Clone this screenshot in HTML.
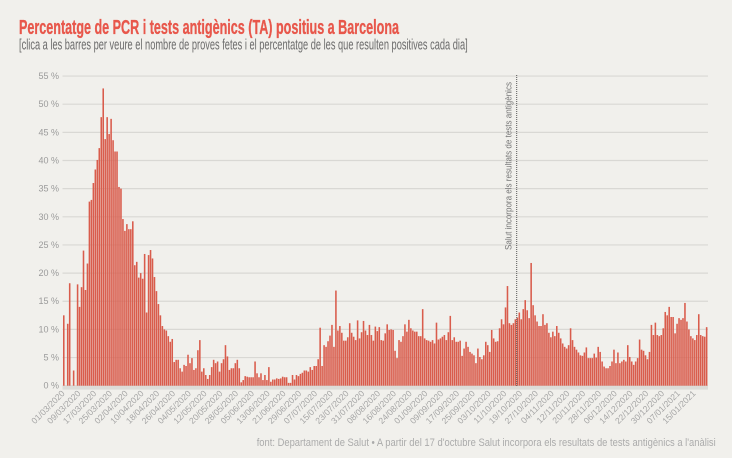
<!DOCTYPE html>
<html>
<head>
<meta charset="utf-8">
<style>
html,body{margin:0;padding:0;background:#f1f0ec;}
body{width:732px;height:458px;overflow:hidden;}
svg{display:block;}
.yl{font-family:"Liberation Sans",sans-serif;font-size:9px;fill:#9a9a9a;text-anchor:end;}
.xl{font-family:"Liberation Sans",sans-serif;font-size:8.6px;fill:#a5a5a5;text-anchor:end;}
</style>
</head>
<body>
<svg width="732" height="458" viewBox="0 0 732 458" xmlns="http://www.w3.org/2000/svg">
<rect width="732" height="458" fill="#f1f0ec"/>
<text x="19" y="34" font-family="Liberation Sans, sans-serif" font-size="20" font-weight="bold" fill="#e8574b" stroke="#e8574b" stroke-width="0.35" textLength="380" lengthAdjust="spacingAndGlyphs">Percentatge de PCR i tests antigènics (TA) positius a Barcelona</text>
<text x="19" y="49.5" font-family="Liberation Sans, sans-serif" font-size="15" fill="#6a6a6a" textLength="448.7" lengthAdjust="spacingAndGlyphs">[clica a les barres per veure el nombre de proves fetes i el percentatge de les que resulten positives cada dia]</text>

<g stroke="#d9d8d4" stroke-width="1.2">
<line x1="62.5" x2="708" y1="76.05" y2="76.05"/>
<line x1="62.5" x2="708" y1="104.2" y2="104.2"/>
<line x1="62.5" x2="708" y1="132.35" y2="132.35"/>
<line x1="62.5" x2="708" y1="160.5" y2="160.5"/>
<line x1="62.5" x2="708" y1="188.65" y2="188.65"/>
<line x1="62.5" x2="708" y1="216.8" y2="216.8"/>
<line x1="62.5" x2="708" y1="244.95" y2="244.95"/>
<line x1="62.5" x2="708" y1="273.1" y2="273.1"/>
<line x1="62.5" x2="708" y1="301.25" y2="301.25"/>
<line x1="62.5" x2="708" y1="329.4" y2="329.4"/>
<line x1="62.5" x2="708" y1="357.55" y2="357.55"/>
<line x1="62.5" x2="708" y1="385.7" y2="385.7"/>
</g>
<rect x="62.5" y="386" width="645.5" height="3.6" fill="#dddcd8"/>

<text class="yl" x="59" y="79">55 %</text>
<text class="yl" x="59" y="107.2">50 %</text>
<text class="yl" x="59" y="135.3">45 %</text>
<text class="yl" x="59" y="163.5">40 %</text>
<text class="yl" x="59" y="191.6">35 %</text>
<text class="yl" x="59" y="219.8">30 %</text>
<text class="yl" x="59" y="247.9">25 %</text>
<text class="yl" x="59" y="276.1">20 %</text>
<text class="yl" x="59" y="304.2">15 %</text>
<text class="yl" x="59" y="332.4">10 %</text>
<text class="yl" x="59" y="360.5">5 %</text>
<text class="yl" x="59" y="388.7">0 %</text>

<g transform="translate(63,385.7) scale(1.972,-5.63)" fill="#d95c4c">
<rect x="0" width=".79" height="12.5"/>
<rect x="2" width=".79" height="11"/>
<rect x="3" width=".79" height="18.2"/>
<rect x="5" width=".79" height="2.7"/>
<rect x="7" width=".79" height="18"/>
<rect x="8" width=".79" height="14"/>
<rect x="9" width=".79" height="17.5"/>
<rect x="10" width=".79" height="24"/>
<rect x="11" width=".79" height="17"/>
<rect x="12" width=".79" height="21.7"/>
<rect x="13" width=".79" height="32.7"/>
<rect x="14" width=".79" height="33"/>
<rect x="15" width=".79" height="36"/>
<rect x="16" width=".79" height="38.4"/>
<rect x="17" width=".79" height="40.1"/>
<rect x="18" width=".79" height="42.2"/>
<rect x="19" width=".79" height="47.7"/>
<rect x="20" width=".79" height="52.8"/>
<rect x="21" width=".79" height="43.8"/>
<rect x="22" width=".79" height="47.7"/>
<rect x="23" width=".79" height="44.7"/>
<rect x="24" width=".79" height="47.4"/>
<rect x="25" width=".79" height="43.6"/>
<rect x="26" width=".79" height="41.6"/>
<rect x="27" width=".79" height="41.6"/>
<rect x="28" width=".79" height="35.3"/>
<rect x="29" width=".79" height="35"/>
<rect x="30" width=".79" height="29.6"/>
<rect x="31" width=".79" height="27.5"/>
<rect x="32" width=".79" height="28.7"/>
<rect x="33" width=".79" height="27.8"/>
<rect x="34" width=".79" height="27.8"/>
<rect x="35" width=".79" height="29.2"/>
<rect x="36" width=".79" height="21.4"/>
<rect x="37" width=".79" height="22"/>
<rect x="38" width=".79" height="19.2"/>
<rect x="39" width=".79" height="20"/>
<rect x="40" width=".79" height="19"/>
<rect x="41" width=".79" height="23.4"/>
<rect x="42" width=".79" height="13"/>
<rect x="43" width=".79" height="23.2"/>
<rect x="44" width=".79" height="24.1"/>
<rect x="45" width=".79" height="22.6"/>
<rect x="46" width=".79" height="19.3"/>
<rect x="47" width=".79" height="16.8"/>
<rect x="48" width=".79" height="14.5"/>
<rect x="49" width=".79" height="12.5"/>
<rect x="50" width=".79" height="10.6"/>
<rect x="51" width=".79" height="10"/>
<rect x="52" width=".79" height="9.8"/>
<rect x="53" width=".79" height="8.8"/>
<rect x="54" width=".79" height="7.8"/>
<rect x="55" width=".79" height="8.3"/>
<rect x="56" width=".79" height="4.2"/>
<rect x="57" width=".79" height="4.6"/>
<rect x="58" width=".79" height="4.6"/>
<rect x="59" width=".79" height="3.1"/>
<rect x="60" width=".79" height="2.5"/>
<rect x="61" width=".79" height="3.7"/>
<rect x="62" width=".79" height="3.5"/>
<rect x="63" width=".79" height="5.5"/>
<rect x="64" width=".79" height="4"/>
<rect x="65" width=".79" height="4.9"/>
<rect x="66" width=".79" height="2.8"/>
<rect x="67" width=".79" height="3.1"/>
<rect x="68" width=".79" height="6.3"/>
<rect x="69" width=".79" height="8.1"/>
<rect x="70" width=".79" height="2.5"/>
<rect x="71" width=".79" height="3.1"/>
<rect x="72" width=".79" height="1.9"/>
<rect x="73" width=".79" height="1.2"/>
<rect x="74" width=".79" height="1.9"/>
<rect x="75" width=".79" height="3.3"/>
<rect x="76" width=".79" height="4.6"/>
<rect x="77" width=".79" height="4"/>
<rect x="78" width=".79" height="4.3"/>
<rect x="79" width=".79" height="2.5"/>
<rect x="80" width=".79" height="4"/>
<rect x="81" width=".79" height="4.7"/>
<rect x="82" width=".79" height="7.2"/>
<rect x="83" width=".79" height="5.2"/>
<rect x="84" width=".79" height="2.8"/>
<rect x="85" width=".79" height="3.1"/>
<rect x="86" width=".79" height="3.1"/>
<rect x="87" width=".79" height="4"/>
<rect x="88" width=".79" height="4.6"/>
<rect x="89" width=".79" height="3.1"/>
<rect x="90" width=".79" height="0.6"/>
<rect x="91" width=".79" height="1"/>
<rect x="92" width=".79" height="1.7"/>
<rect x="93" width=".79" height="1.6"/>
<rect x="94" width=".79" height="1.5"/>
<rect x="95" width=".79" height="1.5"/>
<rect x="96" width=".79" height="1.5"/>
<rect x="97" width=".79" height="4.3"/>
<rect x="98" width=".79" height="2.2"/>
<rect x="99" width=".79" height="1.5"/>
<rect x="100" width=".79" height="2.2"/>
<rect x="101" width=".79" height="1"/>
<rect x="102" width=".79" height="1.9"/>
<rect x="103" width=".79" height="1"/>
<rect x="104" width=".79" height="3.3"/>
<rect x="105" width=".79" height="0.7"/>
<rect x="106" width=".79" height="1.1"/>
<rect x="107" width=".79" height="1.1"/>
<rect x="108" width=".79" height="1.3"/>
<rect x="109" width=".79" height="1.2"/>
<rect x="110" width=".79" height="1.3"/>
<rect x="111" width=".79" height="1.6"/>
<rect x="112" width=".79" height="1.5"/>
<rect x="113" width=".79" height="1.5"/>
<rect x="114" width=".79" height="0.5"/>
<rect x="115" width=".79" height="0.5"/>
<rect x="116" width=".79" height="1.9"/>
<rect x="117" width=".79" height="1.1"/>
<rect x="118" width=".79" height="1.9"/>
<rect x="119" width=".79" height="1.7"/>
<rect x="120" width=".79" height="2.1"/>
<rect x="121" width=".79" height="2.3"/>
<rect x="122" width=".79" height="2.7"/>
<rect x="123" width=".79" height="2.7"/>
<rect x="124" width=".79" height="2.5"/>
<rect x="125" width=".79" height="3.3"/>
<rect x="126" width=".79" height="2.8"/>
<rect x="127" width=".79" height="3.5"/>
<rect x="128" width=".79" height="3.5"/>
<rect x="129" width=".79" height="4.7"/>
<rect x="130" width=".79" height="10.3"/>
<rect x="131" width=".79" height="3.5"/>
<rect x="132" width=".79" height="7.2"/>
<rect x="133" width=".79" height="6.9"/>
<rect x="134" width=".79" height="7.9"/>
<rect x="135" width=".79" height="8.9"/>
<rect x="136" width=".79" height="10.8"/>
<rect x="137" width=".79" height="6.9"/>
<rect x="138" width=".79" height="16.9"/>
<rect x="139" width=".79" height="9.8"/>
<rect x="140" width=".79" height="10.6"/>
<rect x="141" width=".79" height="9.4"/>
<rect x="142" width=".79" height="8"/>
<rect x="143" width=".79" height="8"/>
<rect x="144" width=".79" height="8.6"/>
<rect x="145" width=".79" height="11.1"/>
<rect x="146" width=".79" height="9.4"/>
<rect x="147" width=".79" height="8.7"/>
<rect x="148" width=".79" height="8.1"/>
<rect x="149" width=".79" height="11.6"/>
<rect x="150" width=".79" height="8.4"/>
<rect x="151" width=".79" height="9.5"/>
<rect x="152" width=".79" height="11.5"/>
<rect x="153" width=".79" height="9.8"/>
<rect x="154" width=".79" height="9"/>
<rect x="155" width=".79" height="10.8"/>
<rect x="156" width=".79" height="9"/>
<rect x="157" width=".79" height="8"/>
<rect x="158" width=".79" height="10.5"/>
<rect x="159" width=".79" height="9.7"/>
<rect x="160" width=".79" height="10.4"/>
<rect x="161" width=".79" height="8.1"/>
<rect x="162" width=".79" height="8"/>
<rect x="163" width=".79" height="9.3"/>
<rect x="164" width=".79" height="10.9"/>
<rect x="165" width=".79" height="9.9"/>
<rect x="166" width=".79" height="10"/>
<rect x="167" width=".79" height="9.9"/>
<rect x="168" width=".79" height="6.2"/>
<rect x="169" width=".79" height="4.9"/>
<rect x="170" width=".79" height="8.1"/>
<rect x="171" width=".79" height="7.8"/>
<rect x="172" width=".79" height="8.8"/>
<rect x="173" width=".79" height="10.9"/>
<rect x="174" width=".79" height="9.6"/>
<rect x="175" width=".79" height="11.7"/>
<rect x="176" width=".79" height="10.2"/>
<rect x="177" width=".79" height="9.8"/>
<rect x="178" width=".79" height="9.6"/>
<rect x="179" width=".79" height="9.6"/>
<rect x="180" width=".79" height="8.8"/>
<rect x="181" width=".79" height="8.8"/>
<rect x="182" width=".79" height="13.6"/>
<rect x="183" width=".79" height="8.4"/>
<rect x="184" width=".79" height="8.1"/>
<rect x="185" width=".79" height="8"/>
<rect x="186" width=".79" height="7.8"/>
<rect x="187" width=".79" height="8.1"/>
<rect x="188" width=".79" height="7.5"/>
<rect x="189" width=".79" height="11.2"/>
<rect x="190" width=".79" height="8.2"/>
<rect x="191" width=".79" height="8.4"/>
<rect x="192" width=".79" height="8.7"/>
<rect x="193" width=".79" height="9"/>
<rect x="194" width=".79" height="8.1"/>
<rect x="195" width=".79" height="9.5"/>
<rect x="196" width=".79" height="12.4"/>
<rect x="197" width=".79" height="8.1"/>
<rect x="198" width=".79" height="8.6"/>
<rect x="199" width=".79" height="7.8"/>
<rect x="200" width=".79" height="7.8"/>
<rect x="201" width=".79" height="8"/>
<rect x="202" width=".79" height="5.3"/>
<rect x="203" width=".79" height="6.6"/>
<rect x="204" width=".79" height="7.8"/>
<rect x="205" width=".79" height="6.9"/>
<rect x="206" width=".79" height="6"/>
<rect x="207" width=".79" height="5.7"/>
<rect x="208" width=".79" height="5.4"/>
<rect x="209" width=".79" height="4"/>
<rect x="210" width=".79" height="6.6"/>
<rect x="211" width=".79" height="5.1"/>
<rect x="212" width=".79" height="4.7"/>
<rect x="213" width=".79" height="5.4"/>
<rect x="214" width=".79" height="7.8"/>
<rect x="215" width=".79" height="7.2"/>
<rect x="216" width=".79" height="6"/>
<rect x="217" width=".79" height="9.9"/>
<rect x="218" width=".79" height="8.4"/>
<rect x="219" width=".79" height="7.8"/>
<rect x="220" width=".79" height="7.9"/>
<rect x="221" width=".79" height="10.2"/>
<rect x="222" width=".79" height="11.8"/>
<rect x="223" width=".79" height="10.9"/>
<rect x="224" width=".79" height="13.9"/>
<rect x="225" width=".79" height="17.7"/>
<rect x="226" width=".79" height="11.1"/>
<rect x="227" width=".79" height="10.8"/>
<rect x="228" width=".79" height="11.1"/>
<rect x="229" width=".79" height="11.8"/>
<rect x="230" width=".79" height="12.1"/>
<rect x="231" width=".79" height="13"/>
<rect x="232" width=".79" height="11.8"/>
<rect x="233" width=".79" height="13.6"/>
<rect x="234" width=".79" height="15.2"/>
<rect x="235" width=".79" height="13.4"/>
<rect x="236" width=".79" height="12"/>
<rect x="237" width=".79" height="21.8"/>
<rect x="238" width=".79" height="14.3"/>
<rect x="239" width=".79" height="12.5"/>
<rect x="240" width=".79" height="11.4"/>
<rect x="241" width=".79" height="10.6"/>
<rect x="242" width=".79" height="10.6"/>
<rect x="243" width=".79" height="12.7"/>
<rect x="244" width=".79" height="10.8"/>
<rect x="245" width=".79" height="11.1"/>
<rect x="246" width=".79" height="9.4"/>
<rect x="247" width=".79" height="8.6"/>
<rect x="248" width=".79" height="9.6"/>
<rect x="249" width=".79" height="8.8"/>
<rect x="250" width=".79" height="10.6"/>
<rect x="251" width=".79" height="9.4"/>
<rect x="252" width=".79" height="8.4"/>
<rect x="253" width=".79" height="7.5"/>
<rect x="254" width=".79" height="6.9"/>
<rect x="255" width=".79" height="6.6"/>
<rect x="256" width=".79" height="7.2"/>
<rect x="257" width=".79" height="10.2"/>
<rect x="258" width=".79" height="8.1"/>
<rect x="259" width=".79" height="6.9"/>
<rect x="260" width=".79" height="6.4"/>
<rect x="261" width=".79" height="5.9"/>
<rect x="262" width=".79" height="5.4"/>
<rect x="263" width=".79" height="5.3"/>
<rect x="264" width=".79" height="5.9"/>
<rect x="265" width=".79" height="6.8"/>
<rect x="266" width=".79" height="4.9"/>
<rect x="267" width=".79" height="4.9"/>
<rect x="268" width=".79" height="4.9"/>
<rect x="269" width=".79" height="5.7"/>
<rect x="270" width=".79" height="5"/>
<rect x="271" width=".79" height="6.9"/>
<rect x="272" width=".79" height="6"/>
<rect x="273" width=".79" height="4.3"/>
<rect x="274" width=".79" height="3.4"/>
<rect x="275" width=".79" height="3.1"/>
<rect x="276" width=".79" height="3.1"/>
<rect x="277" width=".79" height="3.5"/>
<rect x="278" width=".79" height="4.3"/>
<rect x="279" width=".79" height="6.4"/>
<rect x="280" width=".79" height="4"/>
<rect x="281" width=".79" height="5.9"/>
<rect x="282" width=".79" height="4"/>
<rect x="283" width=".79" height="4.3"/>
<rect x="284" width=".79" height="4.6"/>
<rect x="285" width=".79" height="4.3"/>
<rect x="286" width=".79" height="7.2"/>
<rect x="287" width=".79" height="5.1"/>
<rect x="288" width=".79" height="4.3"/>
<rect x="289" width=".79" height="3.7"/>
<rect x="290" width=".79" height="4.3"/>
<rect x="291" width=".79" height="4.9"/>
<rect x="292" width=".79" height="8.2"/>
<rect x="293" width=".79" height="6.4"/>
<rect x="294" width=".79" height="6.2"/>
<rect x="295" width=".79" height="5.4"/>
<rect x="296" width=".79" height="4.7"/>
<rect x="297" width=".79" height="6"/>
<rect x="298" width=".79" height="10.8"/>
<rect x="299" width=".79" height="9"/>
<rect x="300" width=".79" height="11.2"/>
<rect x="301" width=".79" height="9"/>
<rect x="302" width=".79" height="8.8"/>
<rect x="303" width=".79" height="9"/>
<rect x="304" width=".79" height="10.2"/>
<rect x="305" width=".79" height="13.1"/>
<rect x="306" width=".79" height="12.5"/>
<rect x="307" width=".79" height="14"/>
<rect x="308" width=".79" height="12.2"/>
<rect x="309" width=".79" height="12.2"/>
<rect x="310" width=".79" height="9.3"/>
<rect x="311" width=".79" height="11"/>
<rect x="312" width=".79" height="12"/>
<rect x="313" width=".79" height="11.7"/>
<rect x="314" width=".79" height="12"/>
<rect x="315" width=".79" height="14.7"/>
<rect x="316" width=".79" height="11.4"/>
<rect x="317" width=".79" height="10"/>
<rect x="318" width=".79" height="8.8"/>
<rect x="319" width=".79" height="8.4"/>
<rect x="320" width=".79" height="8.1"/>
<rect x="321" width=".79" height="9"/>
<rect x="322" width=".79" height="12.7"/>
<rect x="323" width=".79" height="9"/>
<rect x="324" width=".79" height="8.8"/>
<rect x="325" width=".79" height="8.7"/>
<rect x="326" width=".79" height="10.4"/>
</g>

<line x1="516.7" x2="516.7" y1="75" y2="386" stroke="#555" stroke-width="1" stroke-dasharray="1,1"/>
<text transform="translate(511.5,250) rotate(-90)" font-family="Liberation Sans, sans-serif" font-size="9.5" fill="#777" textLength="168" lengthAdjust="spacingAndGlyphs">Salut incorpora els resultats de tests antigènics</text>

<text class="xl" transform="translate(65.3,394) rotate(-45)">01/03/2020</text>
<text class="xl" transform="translate(81.1,394) rotate(-45)">09/03/2020</text>
<text class="xl" transform="translate(96.9,394) rotate(-45)">17/03/2020</text>
<text class="xl" transform="translate(112.6,394) rotate(-45)">25/03/2020</text>
<text class="xl" transform="translate(128.4,394) rotate(-45)">02/04/2020</text>
<text class="xl" transform="translate(144.2,394) rotate(-45)">10/04/2020</text>
<text class="xl" transform="translate(159.9,394) rotate(-45)">18/04/2020</text>
<text class="xl" transform="translate(175.7,394) rotate(-45)">26/04/2020</text>
<text class="xl" transform="translate(191.5,394) rotate(-45)">04/05/2020</text>
<text class="xl" transform="translate(207.3,394) rotate(-45)">12/05/2020</text>
<text class="xl" transform="translate(223.1,394) rotate(-45)">20/05/2020</text>
<text class="xl" transform="translate(238.8,394) rotate(-45)">28/05/2020</text>
<text class="xl" transform="translate(254.6,394) rotate(-45)">05/06/2020</text>
<text class="xl" transform="translate(270.4,394) rotate(-45)">13/06/2020</text>
<text class="xl" transform="translate(286.2,394) rotate(-45)">21/06/2020</text>
<text class="xl" transform="translate(301.9,394) rotate(-45)">29/06/2020</text>
<text class="xl" transform="translate(317.7,394) rotate(-45)">07/07/2020</text>
<text class="xl" transform="translate(333.5,394) rotate(-45)">15/07/2020</text>
<text class="xl" transform="translate(349.3,394) rotate(-45)">23/07/2020</text>
<text class="xl" transform="translate(365,394) rotate(-45)">31/07/2020</text>
<text class="xl" transform="translate(380.8,394) rotate(-45)">08/08/2020</text>
<text class="xl" transform="translate(396.6,394) rotate(-45)">16/08/2020</text>
<text class="xl" transform="translate(412.4,394) rotate(-45)">24/08/2020</text>
<text class="xl" transform="translate(428.1,394) rotate(-45)">01/09/2020</text>
<text class="xl" transform="translate(443.9,394) rotate(-45)">09/09/2020</text>
<text class="xl" transform="translate(459.7,394) rotate(-45)">17/09/2020</text>
<text class="xl" transform="translate(475.5,394) rotate(-45)">25/09/2020</text>
<text class="xl" transform="translate(491.3,394) rotate(-45)">03/10/2020</text>
<text class="xl" transform="translate(507,394) rotate(-45)">11/10/2020</text>
<text class="xl" transform="translate(522.8,394) rotate(-45)">19/10/2020</text>
<text class="xl" transform="translate(538.6,394) rotate(-45)">27/10/2020</text>
<text class="xl" transform="translate(554.4,394) rotate(-45)">04/11/2020</text>
<text class="xl" transform="translate(570.1,394) rotate(-45)">12/11/2020</text>
<text class="xl" transform="translate(585.9,394) rotate(-45)">20/11/2020</text>
<text class="xl" transform="translate(601.7,394) rotate(-45)">28/11/2020</text>
<text class="xl" transform="translate(617.5,394) rotate(-45)">06/12/2020</text>
<text class="xl" transform="translate(633.2,394) rotate(-45)">14/12/2020</text>
<text class="xl" transform="translate(649,394) rotate(-45)">22/12/2020</text>
<text class="xl" transform="translate(664.8,394) rotate(-45)">30/12/2020</text>
<text class="xl" transform="translate(680.6,394) rotate(-45)">07/01/2021</text>
<text class="xl" transform="translate(696.3,394) rotate(-45)">15/01/2021</text>

<text x="256.7" y="446" font-family="Liberation Sans, sans-serif" font-size="11" fill="#ababab" textLength="459" lengthAdjust="spacingAndGlyphs">font: Departament de Salut • A partir del 17 d'octubre Salut incorpora els resultats de tests antigènics a l'anàlisi</text>
</svg>
</body>
</html>
